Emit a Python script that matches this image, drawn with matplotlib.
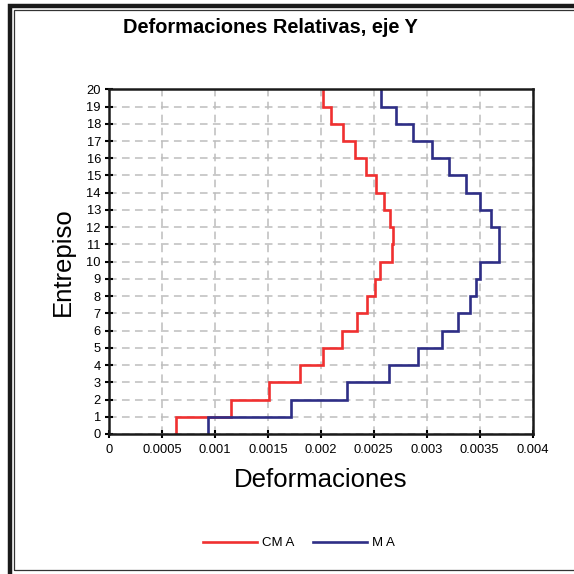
import numpy as np
import matplotlib.pyplot as plt
from matplotlib.patches import Rectangle

plt.rcParams['font.family'] = ['Liberation Sans', 'DejaVu Sans']

# storey drifts, floor 1..20
pisos = np.arange(0, 21)
cm_a = [0.00063, 0.00115, 0.00151, 0.00180, 0.00202, 0.00220, 0.00234, 0.00244, 0.00251, 0.00256,
        0.00267, 0.00268, 0.00265, 0.00260, 0.00252, 0.00243, 0.00232, 0.00221, 0.00210, 0.00202]
m_a = [0.00093, 0.00172, 0.00225, 0.00264, 0.00292, 0.00314, 0.00330, 0.00341, 0.00347, 0.00350,
       0.00368, 0.00368, 0.00361, 0.00350, 0.00337, 0.00321, 0.00305, 0.00287, 0.00271, 0.00257]
xticks = [0, 0.0005, 0.001, 0.0015, 0.002, 0.0025, 0.003, 0.0035, 0.004]
xticklabels = ['0', '0.0005', '0.001', '0.0015', '0.002', '0.0025', '0.003', '0.0035', '0.004']

W = H = 574
fig = plt.figure(figsize=(W/100, H/100), dpi=100)
ax = fig.add_axes([109.3/W, 1-434/H, (532.5-109.3)/W, (434-89.3)/H])

ax.stairs(cm_a, pisos, orientation='horizontal', baseline=None, color='#f03030', lw=1.9, label='CM A')
ax.stairs(m_a, pisos, orientation='horizontal', baseline=None, color='#2e2e86', lw=1.9, label='M A')

ax.set_xlim(0, 0.004)
ax.set_ylim(0, 20)
ax.set_xticks(xticks)
ax.set_xticklabels(xticklabels)
ax.set_yticks(range(0, 21))
ax.tick_params(axis='both', direction='inout', length=6, width=1.5, labelsize=9.3, pad=4)
ax.tick_params(axis='y', pad=3)
ax.grid(True, color='#bdbdbd', linestyle=(0, (5, 3.5)), lw=1.1)
ax.set_axisbelow(True)
for s in ax.spines.values():
    s.set_linewidth(1.8)
    s.set_color('#1a1a1a')

fig.text(321/W, 1-487/H, 'Deformaciones', fontsize=18.5, ha='center', va='baseline')
fig.text(70/W, 1-262/H, 'Entrepiso', fontsize=18.5, ha='center', va='baseline',
         rotation=90, rotation_mode='anchor')
fig.text(270/W, 1-33/H, 'Deformaciones Relativas, eje Y', fontsize=14.4, fontweight='bold',
         ha='center', va='baseline')

fig.legend(loc='center', bbox_to_anchor=(299/W, 1-543/H), ncol=2, frameon=False,
           fontsize=9.5, handlelength=4.1, columnspacing=1.35, handletextpad=0.4)

# chart frame
fig.add_artist(Rectangle((10/W, -0.1), 1.2, 1-6/H+0.1, transform=fig.transFigure,
                         fill=False, edgecolor='#1a1a1a', lw=3.2, clip_on=False))
fig.add_artist(Rectangle((14/W, 1-570/H), 1.2, (570-10)/H, transform=fig.transFigure,
                         fill=False, edgecolor='#333333', lw=0.9, clip_on=False))

plt.savefig('out.png', dpi=100)
